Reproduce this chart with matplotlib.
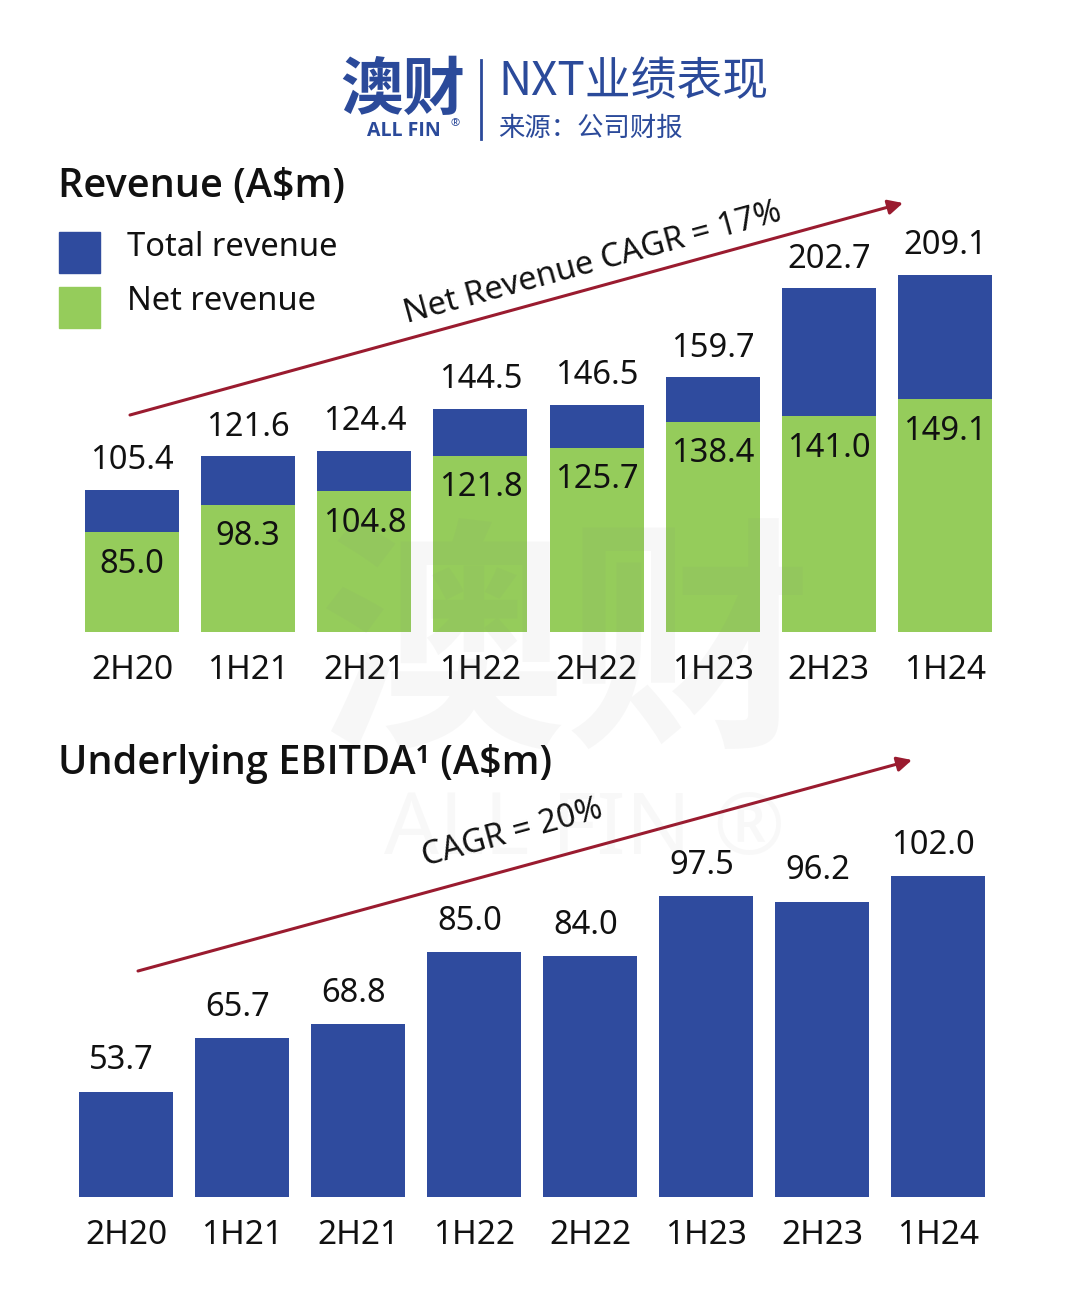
import matplotlib
matplotlib.use("Agg")
from matplotlib import pyplot as plt
import numpy as np

plt.rcParams['font.family'] = ['Noto Sans', 'Noto Sans CJK SC', 'DejaVu Sans']

# data
periods = ["2H20", "1H21", "2H21", "1H22", "2H22", "1H23", "2H23", "1H24"]
total_revenue = [105.4, 121.6, 124.4, 144.5, 146.5, 159.7, 202.7, 209.1]
net_revenue = [85.0, 98.3, 104.8, 121.8, 125.7, 138.4, 141.0, 149.1]
ebitda = [53.7, 65.7, 68.8, 85.0, 84.0, 97.5, 96.2, 102.0]

blue = "#2f4b9e"
green = "#95cc5b"
arrow_red = "#9a1b2f"
head_blue = "#2b4a9a"

W, H = 1080, 1314
fig = plt.figure(figsize=(W / 100, H / 100), dpi=100)


def box(left, top, right, bottom):
    # pixel box (from top-left) -> figure fraction rect
    return [left / W, 1 - bottom / H, (right - left) / W, (bottom - top) / H]


def ftext(x, y, s, **kw):
    fig.text(x / W, 1 - y / H, s, **kw)


x = np.arange(len(periods))

# ---- revenue chart ----
ax1 = fig.add_axes(box(74, 180, 1003, 632))
ax1.bar(x, total_revenue, width=0.81, color=blue, zorder=2)
ax1.bar(x, net_revenue, width=0.81, color=green, zorder=3)
ax1.set_xlim(-0.5, 7.5)
ax1.set_ylim(36.9, 254.9)
px1 = 218.0 / 452  # data units per pixel
for i in x:
    ax1.text(i, total_revenue[i] + 29 * px1, f"{total_revenue[i]:.1f}",
             ha="center", va="center", fontsize=23.5, color="#111111")
    ax1.text(i, net_revenue[i] - 32 * px1, f"{net_revenue[i]:.1f}",
             ha="center", va="center", fontsize=23.5, color="#111111", zorder=5)
ax1.set_xticks(x)
ax1.set_xticklabels(periods, fontsize=24, color="#111111")
ax1.tick_params(axis="x", length=0, pad=16)
ax1.set_yticks([])
for s in ax1.spines.values():
    s.set_visible(False)

# ---- EBITDA chart ----
ax2 = fig.add_axes(box(68, 800, 996, 1197))
ax2.bar(x, ebitda, width=0.81, color=blue, zorder=2)
ax2.set_xlim(-0.5, 7.5)
ax2.set_ylim(30.2, 119.0)
px2 = 88.8 / 397
for i in x:
    ax2.text(i - 0.04, ebitda[i] + 31 * px2, f"{ebitda[i]:.1f}",
             ha="center", va="center", fontsize=23.5, color="#111111")
ax2.set_xticks(x)
ax2.set_xticklabels(periods, fontsize=24, color="#111111")
ax2.tick_params(axis="x", length=0, pad=16)
ax2.set_yticks([])
for s in ax2.spines.values():
    s.set_visible(False)

# titles and legend
ftext(58, 187, "Revenue (A$m)", fontsize=28.5, fontweight="semibold", family="Open Sans",
      ha="left", va="center", color="#111111")
ftext(58, 764, "Underlying EBITDA\u00b9 (A$m)", fontsize=28.5, fontweight="semibold",
      family="Open Sans", ha="left", va="center", color="#111111")
fig.patches.append(plt.Rectangle((59 / W, 1 - 273 / H), 41 / W, 41 / H,
                                 transform=fig.transFigure, color=blue))
fig.patches.append(plt.Rectangle((59 / W, 1 - 328 / H), 41 / W, 41 / H,
                                 transform=fig.transFigure, color=green))
ftext(127, 248, "Total revenue", fontsize=23.5, ha="left", va="center", color="#111111")
ftext(127, 302, "Net revenue", fontsize=23.5, ha="left", va="center", color="#111111")

# CAGR arrows
arrow = dict(arrowstyle="-|>", color=arrow_red, lw=2.2, mutation_scale=22,
             shrinkA=0, shrinkB=0)
ax1.annotate("", xy=(903, H - 203), xytext=(130, H - 415),
             xycoords="figure pixels", textcoords="figure pixels",
             arrowprops=arrow, annotation_clip=False)
ftext(593, 263, "Net Revenue CAGR = 17%", fontsize=23.5, rotation=15.3,
      rotation_mode="anchor", ha="center", va="center", color="#111111")
ax2.annotate("", xy=(912, H - 760), xytext=(138, H - 971),
             xycoords="figure pixels", textcoords="figure pixels",
             arrowprops=arrow, annotation_clip=False)
ftext(512, 833, "CAGR = 20%", fontsize=23.5, rotation=15.3,
      rotation_mode="anchor", ha="center", va="center", color="#111111")

# header
ftext(403, 90, "澳财", fontsize=45, fontweight="heavy", family="Noto Sans CJK SC",
      ha="center", va="center", color=head_blue)
ftext(404, 131, "ALL FIN", fontsize=14, fontweight="bold", family="Open Sans",
      ha="center", va="center", color=head_blue)
ftext(455, 124, "®", fontsize=8, ha="center", va="center", color=head_blue)
fig.add_artist(plt.Line2D([481 / W, 481 / W], [1 - 60 / H, 1 - 139 / H],
                          transform=fig.transFigure, color=head_blue, lw=2))
ftext(498, 82, "NXT业绩表现", fontsize=33, family=["Noto Sans CJK SC", "DejaVu Sans"],
      ha="left", va="center", color=head_blue)
ftext(498, 128, "来源：公司财报", fontsize=19, family=["Noto Sans CJK SC", "DejaVu Sans"],
      ha="left", va="center", color=head_blue)

# faint watermark
ftext(565, 655, "澳财", fontsize=178, fontweight="bold", family="Noto Sans CJK SC",
      ha="center", va="center", color="#808080", alpha=0.06, zorder=10)
ftext(585, 832, "ALL FIN ®", fontsize=62, fontweight="bold",
      ha="center", va="center", color="#808080", alpha=0.05, zorder=10)

fig.savefig("out.png", dpi=100, facecolor="white")
